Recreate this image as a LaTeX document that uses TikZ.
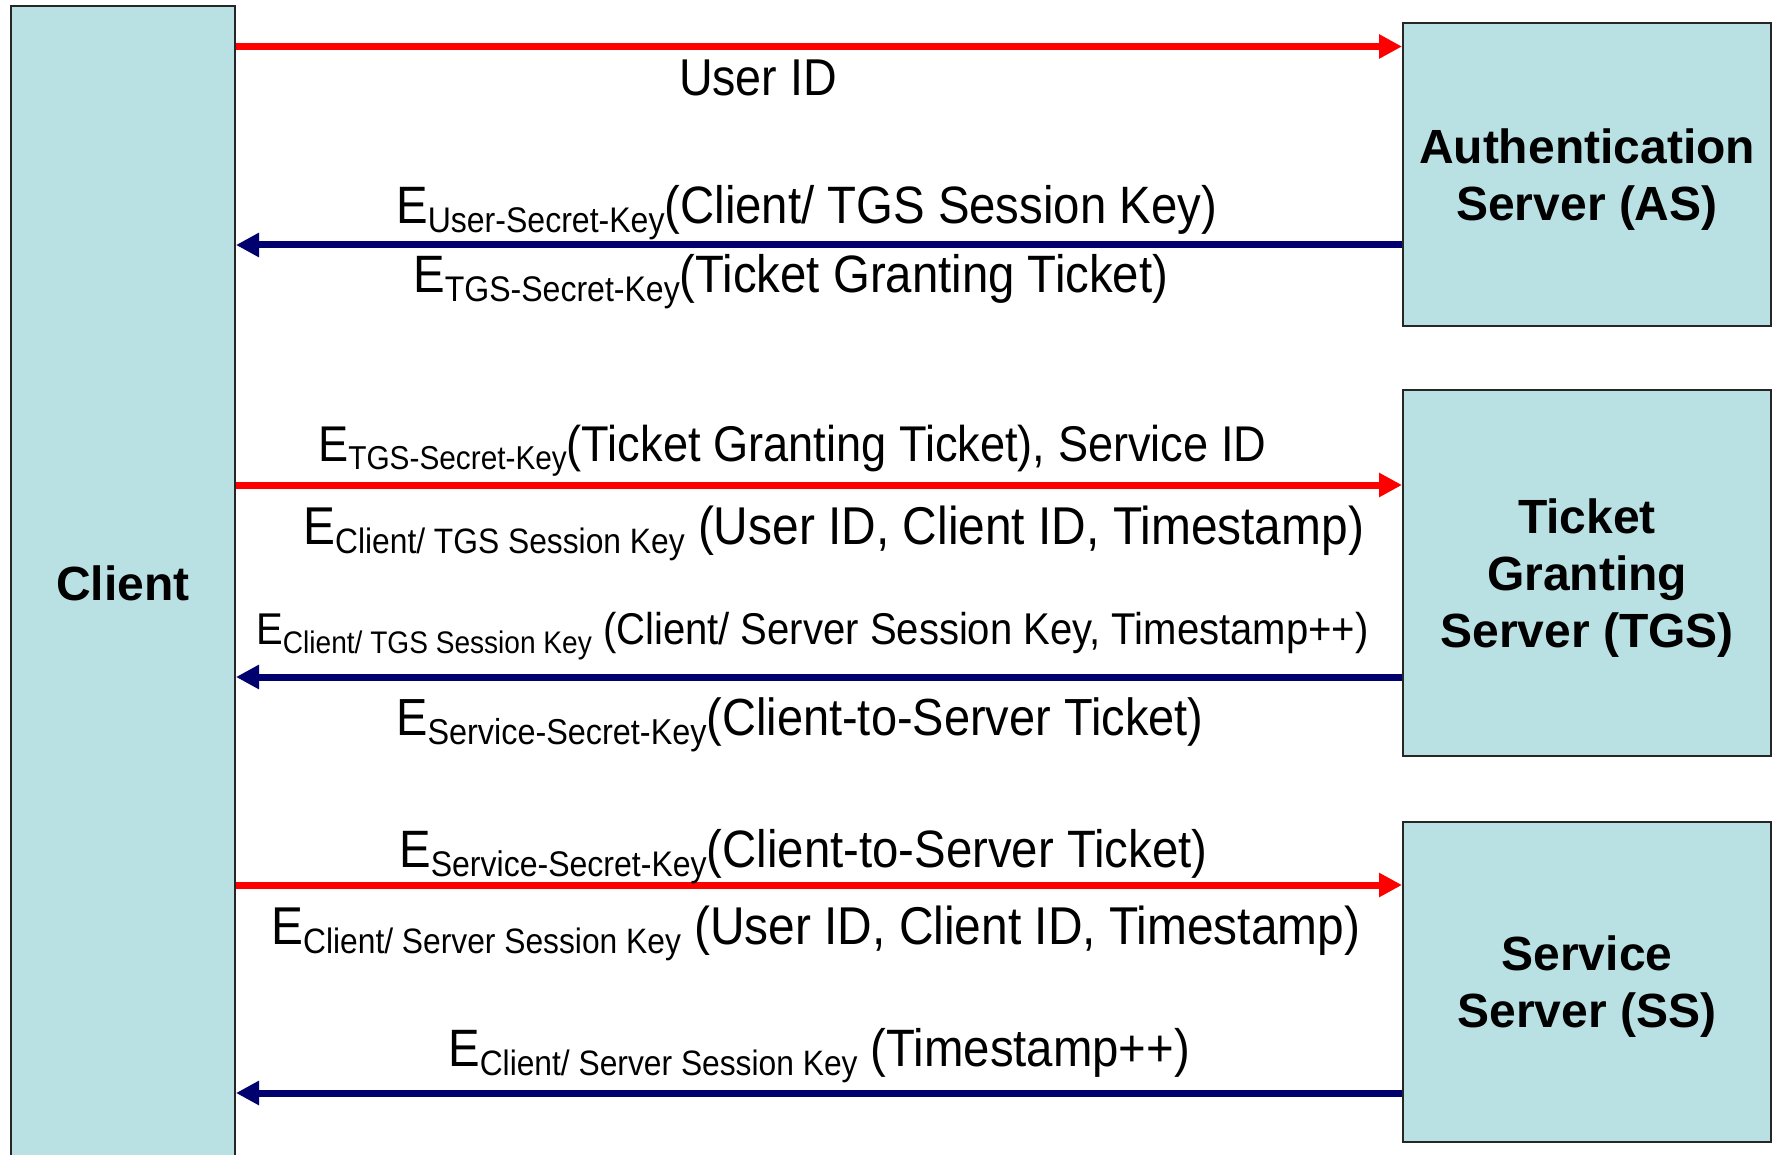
\documentclass[tikz,border=0pt]{standalone}
\usepackage{fontspec}
\setmainfont{Liberation Sans}
\newfontfamily\labfont[FakeStretch=0.9]{Liberation Sans}
\usetikzlibrary{arrows.meta}
\definecolor{boxfill}{RGB}{185,224,227}
\definecolor{arrred}{RGB}{255,0,0}
\definecolor{arrblue}{RGB}{0,0,110}
\newcommand\fs[1]{\fontsize{#1pt}{#1pt}\selectfont}
\newcommand\enc[4]{{\labfont\fs{#1}E\raisebox{-9pt}{\fs{#2}#3}#4}}
\newcommand\boxlines[1]{\raisebox{0pt}[\dimexpr\height+12pt\relax][\depth]{\begin{tabular}{@{}c@{}}#1\end{tabular}}}
\begin{document}
\begin{tikzpicture}[x=1pt,y=-1pt,
  srv/.style={draw=black!85,line width=2pt,fill=boxfill,inner sep=0pt,
    align=center,font=\fontsize{48pt}{57pt}\selectfont\bfseries},
  lab/.style={inner sep=0pt,anchor=base west},
  toserver/.style={draw=arrred,line width=7pt,-{Triangle[length=23pt,width=23pt]}},
  toclient/.style={draw=arrblue,line width=7pt,-{Triangle[length=23pt,width=23pt]}}]
\clip (0,0) rectangle (1773,1155);
\fill[white] (0,0) rectangle (1773,1155);
% boxes
\node[srv,minimum width=224pt,minimum height=1154pt] (client) at (123,583) {Client};
\node[srv,minimum width=368pt,minimum height=303pt] (as) at (1587,174.5) {\boxlines{Authentication\\Server (AS)}};
\node[srv,minimum width=368pt,minimum height=366pt] (tgs) at (1587,573) {\boxlines{Ticket\\Granting\\Server (TGS)}};
\node[srv,minimum width=368pt,minimum height=320pt] (ss) at (1587,982) {\boxlines{Service\\Server (SS)}};
% arrow levels
\coordinate (y1) at (0,46.5);
\coordinate (y2) at (0,245);
\coordinate (y3) at (0,485);
\coordinate (y4) at (0,677);
\coordinate (y5) at (0,885);
\coordinate (y6) at (0,1093);
\draw[toserver] (client.east |- y1) -- (as.west |- y1);
\draw[toclient] (as.west |- y2) -- (client.east |- y2);
\draw[toserver] (client.east |- y3) -- (tgs.west |- y3);
\draw[toclient] (tgs.west |- y4) -- (client.east |- y4);
\draw[toserver] (client.east |- y5) -- (ss.west |- y5);
\draw[toclient] (ss.west |- y6) -- (client.east |- y6);
% labels
\node[inner sep=0pt,anchor=base] (l0) at (758,96) {\labfont\fs{51.8}User ID};
\node[lab] (l1) at (396,224) {\enc{52.6}{35.6}{User-Secret-Key}{(Client/ TGS Session Key)}};
\node[lab] (l2) at (413,293) {\enc{52.6}{35.6}{TGS-Secret-Key}{(Ticket Granting Ticket)}};
\node[lab] (l3) at (318,461) {\enc{50.2}{33.1}{TGS-Secret-Key}{(Ticket Granting Ticket), Service ID}};
\node[lab] (l4) at (303,544) {\enc{53.2}{35.3}{Client/ TGS Session Key}{ (User ID, Client ID, Timestamp)}};
\node[lab] (l5) at (256,644) {\enc{44.5}{31.2}{Client/ TGS Session Key}{ (Client/ Server Session Key, Timestamp++)}};
\node[lab] (l6) at (396,735) {\enc{52.2}{36}{Service-Secret-Key}{(Client-to-Server Ticket)}};
\node[lab] (l7) at (399,867) {\enc{52.6}{35.6}{Service-Secret-Key}{(Client-to-Server Ticket)}};
\node[lab] (l8) at (271,944) {\enc{53.2}{35.3}{Client/ Server Session Key}{ (User ID, Client ID, Timestamp)}};
\node[lab] (l9) at (448,1066) {\enc{52.6}{35.3}{Client/ Server Session Key}{ (Timestamp++)}};
\end{tikzpicture}
\end{document}
